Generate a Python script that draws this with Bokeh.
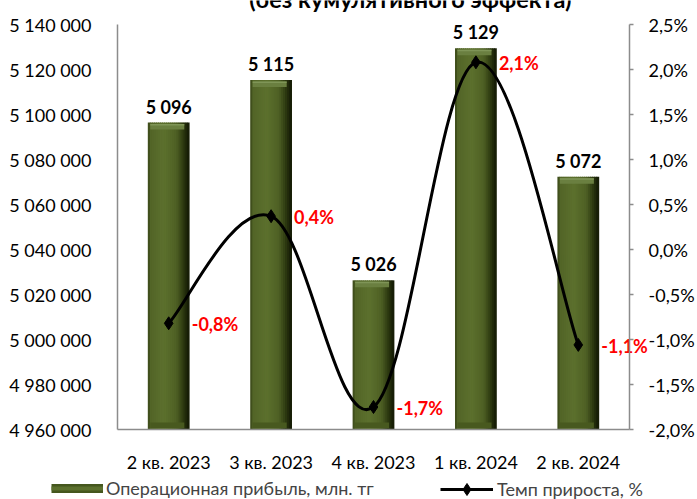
from bokeh.plotting import figure
from bokeh.models import Range1d, LinearAxis, FixedTicker, Legend, LegendItem
from bokeh.core.properties import value
from bokeh.embed import file_html
from bokeh.resources import INLINE
import numpy as np

# ---- data ----
categories = ["2 кв. 2023", "3 кв. 2023", "4 кв. 2023", "1 кв. 2024", "2 кв. 2024"]
profit = [5096400, 5115300, 5026300, 5129400, 5072300]          # млн. тг
profit_labels = ["5 096", "5 115", "5 026", "5 129", "5 072"]
growth = [-0.82, 0.37, -1.75, 2.08, -1.06]                       # %
growth_labels = ["-0,8%", "0,4%", "-1,7%", "2,1%", "-1,1%"]
left_ticks = [4960000, 4980000, 5000000, 5020000, 5040000, 5060000, 5080000, 5100000, 5120000, 5140000]
right_ticks = [-2.0, -1.5, -1.0, -0.5, 0.0, 0.5, 1.0, 1.5, 2.0, 2.5]
title_text = "(без кумулятивного эффекта)"
legend_bar = "Операционная прибыль, млн. тг"
legend_line = "Темп прироста, %"

# ---- layout (pixels) ----
FONT = "Lato"
W, H = 697, 499
PL, PR, PT, PB = 117, 629, 24, 429          # plotting area edges
N = len(categories)
ux = (PR - PL) / N
Y0, Y1 = left_ticks[0], left_ticks[-1]
P0, P1 = right_ticks[0], right_ticks[-1]
pu = (Y1 - Y0) / (PB - PT)
ppu = (P1 - P0) / (PB - PT)

p = figure(width=W, height=H, output_backend="svg", toolbar_location=None,
           x_range=Range1d(-PL / ux, (W - PL) / ux),
           y_range=Range1d(Y0 - (H - PB) * pu, Y1 + PT * pu),
           min_border=0, min_border_left=0, min_border_right=0,
           min_border_top=0, min_border_bottom=0)
p.title.visible = False
p.extra_y_ranges = {"pct": Range1d(P0 - (H - PB) * ppu, P1 + PT * ppu)}
p.outline_line_color = None
p.xgrid.grid_line_color = None
p.ygrid.grid_line_color = None
p.background_fill_color = "white"
p.border_fill_color = "white"

xs = np.arange(N) + 0.5
AXC = "#8c8c8c"

# x axis
xa = p.xaxis[0]
xa.fixed_location = Y0
xa.bounds = (0, N)
xa.ticker = FixedTicker(ticks=list(xs))
xa.major_label_overrides = {float(x): c for x, c in zip(xs, categories)}
xa.axis_line_color = AXC
xa.axis_line_width = 1.5
xa.major_tick_line_color = None
xa.minor_tick_line_color = None
xa.major_label_text_font = FONT
xa.major_label_text_font_size = "18px"
xa.major_label_text_color = "black"
xa.major_label_standoff = 15

# left axis
ya = p.yaxis[0]
ya.fixed_location = 0
ya.bounds = (Y0, Y1)
ya.ticker = FixedTicker(ticks=left_ticks)
ya.major_label_overrides = {t: f"{t:,}".replace(",", " ") for t in left_ticks}
ya.axis_line_color = AXC
ya.axis_line_width = 1.5
ya.major_tick_line_color = None
ya.minor_tick_line_color = None
ya.major_label_text_font = FONT
ya.major_label_text_font_size = "18px"
ya.major_label_text_color = "black"
ya.major_label_standoff = 20

# right axis
ra = LinearAxis(y_range_name="pct", ticker=FixedTicker(ticks=right_ticks),
                fixed_location=N, bounds=(P0, P1))
ra.major_label_overrides = {t: f"{t:.1f}".replace(".", ",") + "%" for t in right_ticks}
ra.axis_line_color = AXC
ra.axis_line_width = 1.5
ra.major_tick_line_color = AXC
ra.major_tick_line_width = 1.5
ra.major_tick_out = 4
ra.major_tick_in = 0
ra.minor_tick_line_color = None
ra.major_label_text_font = FONT
ra.major_label_text_font_size = "18px"
ra.major_label_text_color = "black"
ra.major_label_standoff = 15
p.add_layout(ra, "right")

# ---- bars (shaded like a bevelled column) ----
BAR_W = 0.4
stops = [(0.0, (0x34, 0x40, 0x15)), (0.06, (0x52, 0x64, 0x27)), (0.4, (0x5c, 0x70, 0x2d)),
         (0.7, (0x4e, 0x60, 0x24)), (0.87, (0x2c, 0x38, 0x0f)), (1.0, (0x12, 0x18, 0x04))]
NS = 20
sf = [s[0] for s in stops]
for k in range(NS):
    a, b = k / NS, (k + 1) / NS
    m = (a + b) / 2
    rgb = [int(round(np.interp(m, sf, [s[1][c] for s in stops]))) for c in range(3)]
    col = "#%02x%02x%02x" % tuple(rgb)
    p.vbar(x=xs + (m - 0.5) * BAR_W, width=(b - a) * BAR_W * 1.4, top=profit, bottom=Y0,
           fill_color=col, line_color=None)
prof = np.array(profit, dtype=float)
bl = xs - BAR_W / 2 + 0.05 * BAR_W
br = xs + BAR_W / 2 - 0.12 * BAR_W
p.quad(left=bl, right=br, top=prof - 1.5 * pu, bottom=prof - 7 * pu,
       fill_color="#6a7f40", line_color=None)
p.quad(left=bl, right=br, top=prof - 1.5 * pu, bottom=prof - 3 * pu,
       fill_color="#7f9557", line_color=None)
p.quad(left=bl, right=br, top=np.full(N, Y0 + 7 * pu), bottom=np.full(N, Y0 + 1.5 * pu),
       fill_color="#48591f", line_color=None)

p.text(x=xs, y=profit, text=profit_labels, text_align="center", text_baseline="alphabetic",
       y_offset=-16, text_font=value(FONT), text_font_style="bold", text_font_size="18px",
       text_color="black")

# ---- smoothed growth line (Catmull-Rom -> cubic Bezier) ----
g = np.array(growth, dtype=float)
xe = np.concatenate([[xs[0]], xs, [xs[-1]]])
ge = np.concatenate([[g[0]], g, [g[-1]]])
T = 1 / 5.5
x0, y0, x1, y1, cx0, cy0, cx1, cy1 = [], [], [], [], [], [], [], []
for i in range(N - 1):
    j = i + 1
    x0.append(xe[j]); y0.append(ge[j]); x1.append(xe[j + 1]); y1.append(ge[j + 1])
    cx0.append(xe[j] + (xe[j + 1] - xe[j - 1]) * T); cy0.append(ge[j] + (ge[j + 1] - ge[j - 1]) * T)
    cx1.append(xe[j + 1] - (xe[j + 2] - xe[j]) * T); cy1.append(ge[j + 1] - (ge[j + 2] - ge[j]) * T)
p.bezier(x0=x0, y0=y0, x1=x1, y1=y1, cx0=cx0, cy0=cy0, cx1=cx1, cy1=cy1,
         line_color="black", line_width=3, y_range_name="pct")
p.scatter(x=xs, y=growth, marker="diamond", size=13, fill_color="black", line_color="black",
          y_range_name="pct")

p.text(x=xs, y=growth, text=growth_labels, text_align="left", text_baseline="middle",
       x_offset=23, y_offset=1, text_font=value(FONT), text_font_style="bold",
       text_font_size="18px", text_color="#ff0000", y_range_name="pct")

# ---- title (partly cut at top of the picture) ----
p.text(x=[N / 2 + 0.36], y=[p.y_range.end], text=[title_text], text_align="center",
       text_baseline="alphabetic", y_offset=-2, text_font=value(FONT),
       text_font_style="bold", text_font_size="23.5px", text_color="black")

# ---- legends (proxy renderers that draw nothing in the plot) ----
nan = np.array([np.nan])
lb1 = p.line(x=nan, y=nan, line_color="#45571e", line_width=9)
lb2 = p.line(x=nan, y=nan, line_color="#5c702e", line_width=4)
ll = p.line(x=nan, y=nan, line_color="black", line_width=3)
lm = p.scatter(x=nan, y=nan, marker="diamond", size=13, fill_color="black", line_color="black")
leg1 = Legend(items=[LegendItem(label=legend_bar, renderers=[lb1, lb2])],
              location=(51, 0), glyph_width=52, glyph_height=20, label_standoff=3,
              padding=0, margin=0, border_line_color=None, background_fill_alpha=0,
              label_text_font=FONT, label_text_font_size="18px", label_height=20)
leg2 = Legend(items=[LegendItem(label=legend_line, renderers=[ll, lm])],
              location=(440, -5), glyph_width=53, glyph_height=30, label_standoff=4,
              padding=0, margin=0, border_line_color=None, background_fill_alpha=0,
              label_text_font=FONT, label_text_font_size="18px", label_height=20)
p.add_layout(leg1)
p.add_layout(leg2)

open("out.html", "w").write(file_html(p, INLINE))
